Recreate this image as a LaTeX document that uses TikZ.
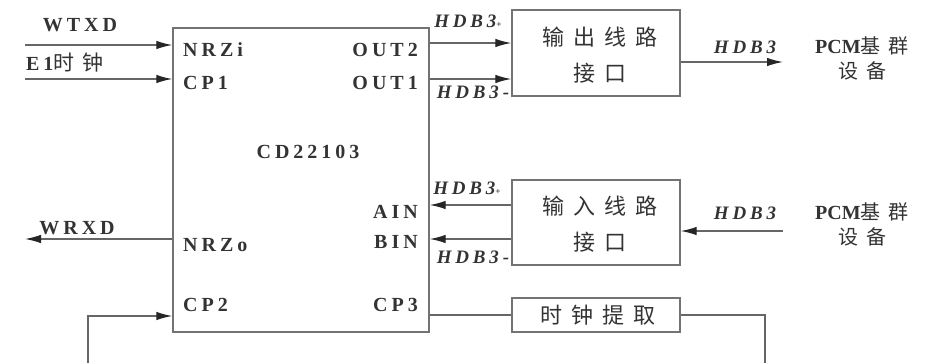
\documentclass[tikz,border=0pt]{standalone}
\usepackage{fontspec}
\setmainfont{Liberation Serif}
\newfontfamily\spaced{Liberation Serif}[LetterSpace=20]
\newfontfamily\cjk{Noto Sans CJK SC}[LetterSpace=40]
\usetikzlibrary{arrows.meta}
\begin{document}
\begin{tikzpicture}[x=1pt,y=-1pt,
  wire/.style={draw=black!60, line width=1.3pt},
  arr/.style={wire, -{Latex[length=16pt,width=8.5pt,color=black!85]}},
  blk/.style={draw=black!55, line width=1.4pt, inner sep=0pt},
  lbl/.style={inner sep=0pt, text=black!80, font=\spaced\bfseries\fontsize{20}{20}\selectfont},
  hdb/.style={inner sep=0pt, text=black!80, font=\spaced\bfseries\itshape\fontsize{19}{19}\selectfont},
  zh/.style={inner sep=0pt, text=black!80, align=center, font=\cjk\fontsize{22}{36}\selectfont},
  pcm/.style={inner sep=0pt, text=black!80, align=center, font=\bfseries\fontsize{20}{20}\selectfont},
]
\path[use as bounding box] (0,0) rectangle (931,363);

% blocks
\node[blk, minimum width=256pt, minimum height=304pt] (cd) at (301,180) {};
\node[blk, minimum width=168pt, minimum height=86pt] (outif) at (596,53) {};
\node[blk, minimum width=168pt, minimum height=85pt] (inif) at (596,222.5) {};
\node[blk, minimum width=168pt, minimum height=34pt] (clk) at (596,315) {};

\node[zh] (outt) at (600,55) {输出线路\\接口};
\node[zh] (intt) at (600,224) {输入线路\\接口};
\node[zh] (clkt) at (598,315) {时钟提取};

% pin labels
\node[lbl, anchor=west] (nrzi) at (183,50) {NRZi};
\node[lbl, anchor=west] (cp1) at (183,83) {CP1};
\node[lbl, anchor=east] (out2) at (418,50) {OUT2};
\node[lbl, anchor=east] (out1) at (418,83) {OUT1};
\node[lbl] (cdname) at (308,152) {CD22103};
\node[lbl, anchor=east] (ain) at (418,212) {AIN};
\node[lbl, anchor=east] (bin) at (418,242) {BIN};
\node[lbl, anchor=west] (nrzo) at (183,245) {NRZo};
\node[lbl, anchor=west] (cp2) at (183,305) {CP2};
\node[lbl, anchor=east] (cp3) at (418,305) {CP3};

% external labels
\node[lbl] (wtxd) at (80,25) {WTXD};
\node[lbl] (e1) at (65,63) {E1{\cjk\mdseries\fontsize{21}{21}\selectfont 时钟}};
\node[lbl] (wrxd) at (77,228) {WRXD};
\node[hdb] (h1) at (468,21) {HDB3{\small +}};
\node[hdb] (h2) at (473,92) {HDB3-};
\node[hdb] (h3) at (745,47) {HDB3};
\node[hdb] (h4) at (467,188) {HDB3{\small +}};
\node[hdb] (h5) at (473,257) {HDB3-};
\node[hdb] (h6) at (745,213) {HDB3};
\node[pcm] (pcm1) at (862,58) {PCM{\cjk\mdseries 基群}\\[5pt]{\cjk\mdseries 设备}};
\node[pcm] (pcm2) at (862,224) {PCM{\cjk\mdseries 基群}\\[5pt]{\cjk\mdseries 设备}};

% free ends
\coordinate (w1) at (25,45);
\coordinate (c1) at (25,79);
\coordinate (r1) at (25,239);
\coordinate (lt) at (88,316);
\coordinate (lb) at (88,363);
\coordinate (rb) at (765,363);
\coordinate (o2) at (429,43);
\coordinate (o1) at (429,79);
\coordinate (po) at (783,62);
\coordinate (pi) at (783,231);
\coordinate (a1) at (429,205);
\coordinate (b1) at (429,239);

% connectors
\draw[arr] (w1) -- (cd.west |- w1);
\draw[arr] (c1) -- (cd.west |- c1);
\draw[arr] (cd.west |- r1) -- (r1);
\draw[arr] (lb) -- (lt) -- (cd.west |- lt);
\draw[wire] (cd.east |- clk) -- (clk.west);
\draw[wire] (clk.east) -- (rb |- clk) -- (rb);
\draw[arr] (cd.east |- o2) -- (outif.west |- o2);
\draw[arr] (cd.east |- o1) -- (outif.west |- o1);
\draw[arr] (outif.east |- po) -- (po);
\draw[arr] (pi) -- (inif.east |- pi);
\draw[arr] (inif.west |- a1) -- (cd.east |- a1);
\draw[arr] (inif.west |- b1) -- (cd.east |- b1);
\end{tikzpicture}
\end{document}
